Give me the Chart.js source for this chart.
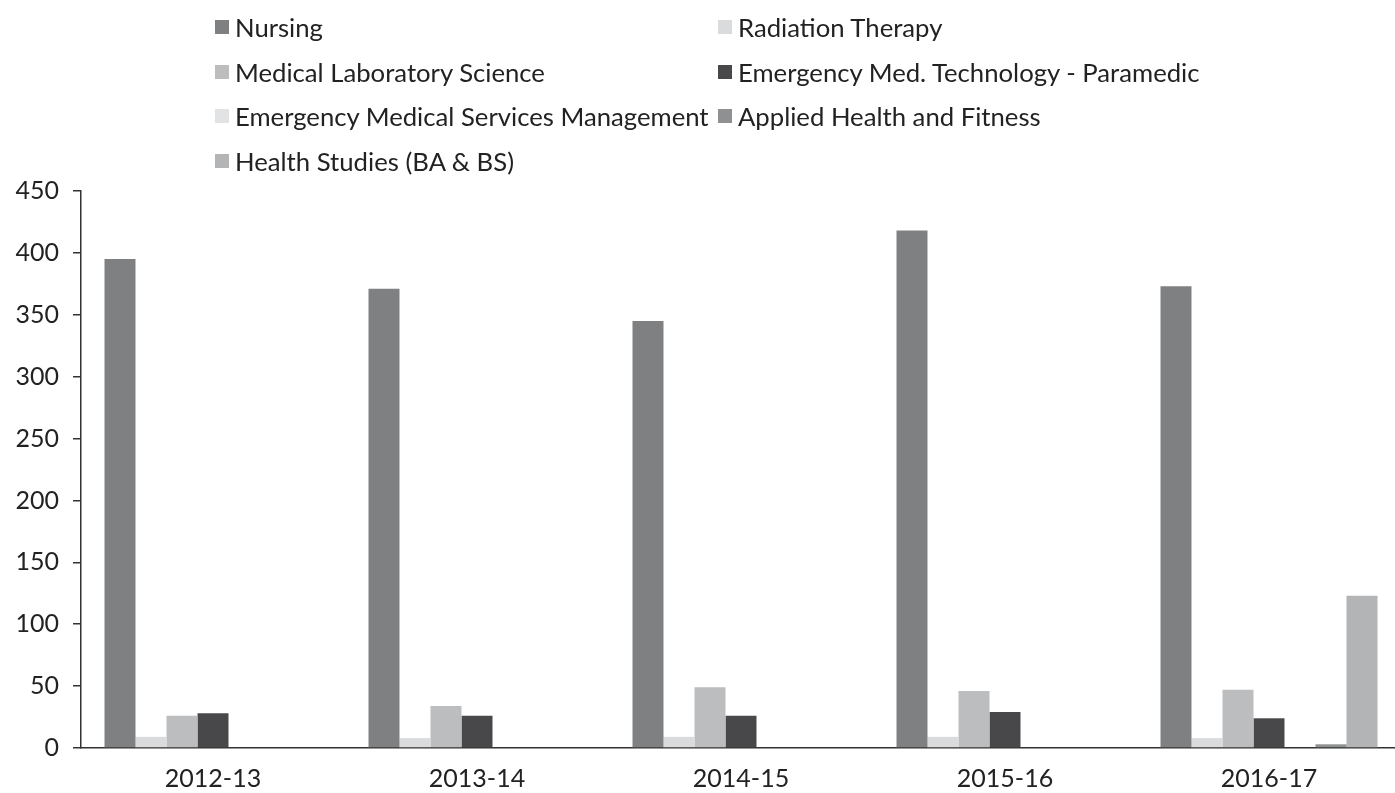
<!DOCTYPE html>
<html>
<head>
<meta charset="utf-8">
<script src="https://cdn.jsdelivr.net/npm/chart.js@4.4.0/dist/chart.umd.min.js"></script>
<style>
  html, body { margin: 0; padding: 0; background: #fff; overflow: hidden; }
  #wrap { position: relative; width: 1404px; height: 793px; }
  #legend { position: absolute; left: 215px; top: 5px; display: grid;
    grid-template-columns: 503px auto; row-gap: 0; font: 25.7px Lato, sans-serif; color: #222; }
  #legend div { display: flex; align-items: center; height: 44.5px; white-space: nowrap; }
  #legend span.box { width: 14px; height: 14px; margin-right: 6px; display: inline-block; }
</style>
</head>
<body>
<div id="wrap">
  <canvas id="myChart" width="1404" height="793"></canvas>
  <div id="legend"></div>
</div>
<script>
// chart data
var years = ["2012-13", "2013-14", "2014-15", "2015-16", "2016-17"];
var programs = ["Nursing", "Radiation Therapy", "Medical Laboratory Science",
  "Emergency Med. Technology - Paramedic", "Emergency Medical Services Management",
  "Applied Health and Fitness", "Health Studies (BA & BS)"];
var nursing = [395, 371, 345, 418, 373];
var radiation = [9, 8, 9, 9, 8];
var medLab = [26, 34, 49, 46, 47];
var paramedic = [28, 26, 26, 29, 24];
var emsMgmt = [0, 0, 0, 0, 0];
var fitness = [0, 0, 0, 0, 3];
var healthStudies = [0, 0, 0, 0, 123];
var yTicks = [0, 50, 100, 150, 200, 250, 300, 350, 400, 450];

var colors = ["#7f8082", "#dadbdc", "#bcbdbe", "#48484a", "#e2e3e4", "#8f9092", "#b3b4b5"];
var series = [nursing, radiation, medLab, paramedic, emsMgmt, fitness, healthStudies];

var chart = new Chart(document.getElementById("myChart"), {
  type: 'bar',
  data: {
    labels: years,
    datasets: series.map(function (d, i) {
      return { label: programs[i], data: d, backgroundColor: colors[i] };
    })
  },
  options: {
    responsive: false,
    animation: false,
    layout: { padding: { top: 191, right: 3, left: 0, bottom: 0 } },
    datasets: { bar: { categoryPercentage: 0.822, barPercentage: 1 } },
    plugins: { legend: { display: false }, tooltip: { enabled: false } },
    scales: {
      x: {
        grid: { display: false },
        border: { display: true, color: '#333', width: 1.5 },
        ticks: { color: '#222', font: { family: 'Lato', size: 25 }, padding: 8 },
        afterFit: function (s) { s.height = 45; }
      },
      y: {
        min: 0, max: 450,
        afterBuildTicks: function (s) { s.ticks = yTicks.map(function (v) { return { value: v }; }); },
        grid: { drawOnChartArea: false, drawTicks: true, tickLength: 8, color: '#333', lineWidth: 1.5 },
        border: { display: true, color: '#333', width: 1.5 },
        ticks: { color: '#222', font: { family: 'Lato', size: 25 }, padding: 14 },
        afterFit: function (s) { s.width = 81; }
      }
    }
  }
});

// legend in two columns
var lg = document.getElementById('legend');
programs.forEach(function (p, i) {
  var d = document.createElement('div');
  d.innerHTML = '<span class="box" style="background:' + colors[i] + '"></span>' + p;
  lg.appendChild(d);
});
</script>
</body>
</html>
